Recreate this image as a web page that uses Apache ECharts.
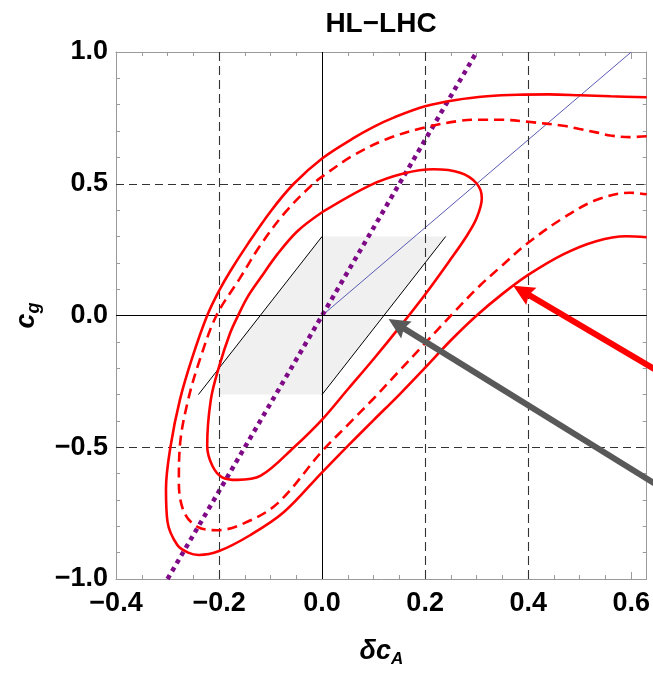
<!DOCTYPE html>
<html><head><meta charset="utf-8">
<script src="https://cdn.jsdelivr.net/npm/echarts@6/dist/echarts.min.js"></script>
<style>html,body{margin:0;padding:0;background:#fff}#c{width:653px;height:673px}</style>
</head><body><div id="c"></div>
<script>
// ---------- data ----------
const titleText = 'HL\u2212LHC';
const xMin = -0.4, xMax = 0.63, yMin = -1, yMax = 1;
const xMajor = 0.2, xMinor = 0.05, yMajor = 0.5, yMinor = 0.1;

const outerSolid = [[0.63,0.828],[0.56,0.832],[0.5,0.836],[0.44,0.839],[0.38,0.838],[0.32,0.832],[0.26,0.818],[0.2,0.794],[0.14,0.752],[0.1,0.716],[0.06,0.672],[0.0,0.596],[-0.055,0.5],[-0.1,0.395],[-0.145,0.269],[-0.178,0.169],[-0.2,0.094],[-0.223,0.0],[-0.252,-0.16],[-0.276,-0.32],[-0.294,-0.495],[-0.303,-0.658],[-0.3,-0.783],[-0.281,-0.871],[-0.26,-0.9],[-0.239,-0.909],[-0.2,-0.894],[-0.139,-0.833],[-0.074,-0.746],[0.0,-0.595],[0.05,-0.495],[0.1,-0.397],[0.15,-0.3],[0.2,-0.198],[0.25,-0.094],[0.3,0.0],[0.35,0.082],[0.4,0.154],[0.468,0.232],[0.532,0.282],[0.59,0.301],[0.63,0.297]];

const dashedCurve = [[0.63,0.68],[0.597,0.677],[0.56,0.683],[0.532,0.695],[0.5,0.708],[0.468,0.72],[0.4,0.735],[0.346,0.743],[0.306,0.743],[0.268,0.739],[0.2,0.714],[0.126,0.67],[0.061,0.608],[0.0,0.527],[-0.02,0.495],[-0.07,0.395],[-0.119,0.269],[-0.16,0.14],[-0.205,0.0],[-0.236,-0.16],[-0.26,-0.32],[-0.276,-0.495],[-0.278,-0.633],[-0.268,-0.746],[-0.242,-0.802],[-0.203,-0.815],[-0.152,-0.789],[-0.087,-0.714],[0.0,-0.515],[0.05,-0.415],[0.1,-0.315],[0.15,-0.21],[0.2,-0.105],[0.25,0.0],[0.306,0.113],[0.345,0.182],[0.4,0.276],[0.468,0.37],[0.532,0.438],[0.597,0.466],[0.63,0.46]];

const innerSolid = [[0.0,0.392],[0.094,0.495],[0.158,0.539],[0.216,0.555],[0.268,0.542],[0.3,0.501],[0.31,0.445],[0.3,0.37],[0.28,0.3],[0.25,0.215],[0.2,0.08],[0.15,-0.045],[0.1,-0.165],[0.05,-0.28],[0.0,-0.395],[-0.055,-0.501],[-0.119,-0.608],[-0.165,-0.624],[-0.194,-0.614],[-0.213,-0.57],[-0.223,-0.495],[-0.216,-0.32],[-0.2,-0.194],[-0.179,-0.069],[-0.163,0.0],[-0.145,0.069],[-0.119,0.144],[-0.087,0.232],[-0.048,0.32],[0.0,0.392]];

const purpleLine = [[-0.3,-1],[0.3,1]];
const blueLine = [[0,0],[0.6,1]];
const blackLine1 = [[-0.24,-0.3],[0,0.3]];
const blackLine2 = [[0,-0.3],[0.24,0.3]];
const grayRegion = [[-0.2,-0.3],[-0.2,-0.2],[0,0.3],[0.24,0.3],[0,-0.3]];
const redArrow = [0.70,-0.267,0.371,0.113];   // tail x,y -> tip x,y
const grayArrow = [0.70,-0.704,0.129,-0.013];
const dashedGridX = [-0.2,0.2,0.4];
const dashedGridY = [-0.5,0.5];
const solidGridX = [0];
const solidGridY = [0];

// ---------- chart ----------
const FONT = 'Liberation Sans';
const frameColor = '#9a9a9a';
function fmt(step){ return function(v){
  const k = v/step; if (Math.abs(k-Math.round(k))>1e-6) return '';
  return v.toFixed(1).replace('-', '\u2212').replace('\u22120.0','0.0');
};}
function axisBase(extra){
  return Object.assign({type:'value', axisLine:{show:true, onZero:false, lineStyle:{color:frameColor,width:1}},
    splitLine:{show:false}, axisTick:{inside:true, length:7, lineStyle:{color:frameColor}},
    axisLabel:{show:false}}, extra);
}
const xLabel = {show:true, formatter:fmt(xMajor), color:'#000', fontFamily:FONT, fontWeight:'bold', fontSize:27, margin:11};
const yLabel = {show:true, formatter:fmt(yMajor), color:'#000', fontFamily:FONT, fontWeight:'bold', fontSize:27, margin:8};
const minorTick = {inside:true, length:4, lineStyle:{color:frameColor}};

const xAxes = [
  axisBase({position:'bottom', min:xMin, max:xMax, interval:xMajor, axisLabel:xLabel,
    name:'{d|\u03b4c}{s|A}', nameLocation:'middle', nameGap:57,
    nameTextStyle:{rich:{
      d:{fontFamily:FONT, fontSize:27, fontStyle:'italic', fontWeight:'bold', color:'#000', lineHeight:32},
      s:{fontFamily:FONT, fontSize:17, fontStyle:'italic', fontWeight:'bold', color:'#000', lineHeight:16, verticalAlign:'bottom'}}}}),
  axisBase({position:'bottom', min:xMin, max:xMax, interval:xMinor, axisLine:{show:false, onZero:false}, axisTick:minorTick}),
  axisBase({position:'top', min:xMin, max:xMax, interval:xMajor}),
  axisBase({position:'top', min:xMin, max:xMax, interval:xMinor, axisLine:{show:false, onZero:false}, axisTick:minorTick})
];
const yAxes = [
  axisBase({position:'left', min:yMin, max:yMax, interval:yMajor, axisLabel:yLabel,
    name:'{c|c}{s|g}', nameLocation:'middle', nameGap:73, nameRotate:90,
    nameTextStyle:{rich:{
      c:{fontFamily:FONT, fontSize:27, fontStyle:'italic', fontWeight:'bold', color:'#000', lineHeight:32},
      s:{fontFamily:FONT, fontSize:18, fontStyle:'italic', fontWeight:'bold', color:'#000', lineHeight:16, verticalAlign:'bottom'}}}}),
  axisBase({position:'left', min:yMin, max:yMax, interval:yMinor, axisLine:{show:false, onZero:false}, axisTick:minorTick}),
  axisBase({position:'right', min:yMin, max:yMax, interval:yMajor}),
  axisBase({position:'right', min:yMin, max:yMax, interval:yMinor, axisLine:{show:false, onZero:false}, axisTick:minorTick})
];

function arrowRender(color){
  return function(params, api){
    const p1 = api.coord([api.value(0), api.value(1)]);
    const p2 = api.coord([api.value(2), api.value(3)]);
    const dx = p2[0]-p1[0], dy = p2[1]-p1[1], len = Math.hypot(dx,dy);
    const ux = dx/len, uy = dy/len, nx = -uy, ny = ux;
    const L = 21, W = 10, N = 3;
    const bx = p2[0]-ux*L, by = p2[1]-uy*L;
    return {type:'group', children:[
      {type:'line', shape:{x1:p1[0], y1:p1[1], x2:bx+ux*(N+2), y2:by+uy*(N+2)}, style:{stroke:color, lineWidth:6}},
      {type:'polygon', shape:{points:[[p2[0],p2[1]],[bx+nx*W,by+ny*W],[bx+ux*N,by+uy*N],[bx-nx*W,by-ny*W]]}, style:{fill:color}}
    ]};
  };
}
function lineSeries(data, color, width, type, z, smooth){
  return {type:'line', data:data, showSymbol:false, symbol:'none', smooth:smooth||false, silent:true, z:z,
    lineStyle:{color:color, width:width, type:type}, animation:false};
}
const gridMarks = [];
dashedGridX.forEach(v=>gridMarks.push({xAxis:v, lineStyle:{color:'#333', width:1.1, type:[9,5]}}));
dashedGridY.forEach(v=>gridMarks.push({yAxis:v, lineStyle:{color:'#333', width:1.1, type:[8,5]}}));
solidGridX.forEach(v=>gridMarks.push({xAxis:v, lineStyle:{color:'#000', width:1, type:'solid'}}));
solidGridY.forEach(v=>gridMarks.push({yAxis:v, lineStyle:{color:'#000', width:1, type:'solid'}}));

const option = {
  animation:false,
  backgroundColor:'#fff',
  grid:{left:116, top:52, width:531, height:532, containLabel:false},
  xAxis:xAxes, yAxis:yAxes,
  graphic:[{type:'text', x:381, y:10, style:{text:titleText, fontFamily:FONT, fontWeight:'bold', fontSize:28, fill:'#000', align:'center', verticalAlign:'top'}}],
  series:[
    {type:'custom', z:1, silent:true, clip:true, data:[[0,0]],
      renderItem:function(params, api){
        return {type:'polygon', shape:{points:grayRegion.map(p=>api.coord(p))}, style:{fill:'#f0f0f0'}};
      }},
    {type:'line', data:[], z:2, silent:true, markLine:{silent:true, symbol:['none','none'], label:{show:false}, animation:false, data:gridMarks}},
    lineSeries(blackLine1, '#000', 1, 'solid', 3),
    lineSeries(blackLine2, '#000', 1, 'solid', 3),
    lineSeries(blueLine, '#5a5ab4', 1, 'solid', 3),
    lineSeries(purpleLine, '#7f0a88', 4.5, [4.5,4.5], 4),
    lineSeries(outerSolid, '#ff0000', 2.6, 'solid', 5, 0.35),
    lineSeries(dashedCurve, '#ff0000', 2.6, [10,6], 5, 0.35),
    lineSeries(innerSolid, '#ff0000', 2.6, 'solid', 5, 0.35),
    {type:'custom', z:6, silent:true, clip:false, data:[redArrow], renderItem:arrowRender('#ff0000')},
    {type:'custom', z:6, silent:true, clip:false, data:[grayArrow], renderItem:arrowRender('#595959')}
  ]
};
const chart = echarts.init(document.getElementById('c'), null, {renderer:'canvas'});
chart.setOption(option);
</script></body></html>
